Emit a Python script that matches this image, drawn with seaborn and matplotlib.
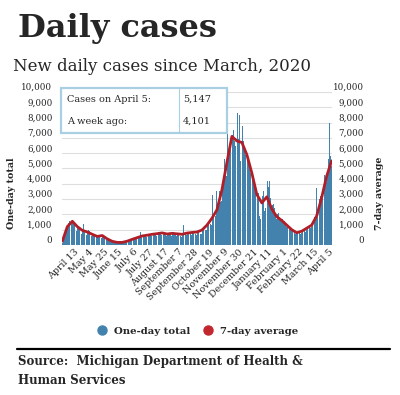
import matplotlib
matplotlib.use("Agg")
import matplotlib.pyplot as plt
from matplotlib.lines import Line2D
from matplotlib.patches import Rectangle
import seaborn as sns
import pandas as pd
import numpy as np

# Daily new cases, Michigan, 2020-03-23 .. 2021-04-05
mar_2020 = [150, 250, 400, 550, 700, 850, 900, 1100, 1300]
apr_2020 = [1450, 1600, 1950, 1500, 1400, 1450, 1600, 1400, 1300, 1350,
            1000, 900, 1150, 1200, 1050, 1100, 950, 850, 700, 900,
            1000, 1350, 950, 900, 800, 650, 850, 900, 950, 900]
may_2020 = [850, 700, 600, 750, 800, 750, 700, 650, 550, 500,
            550, 1200, 600, 600, 650, 550, 450, 550, 600, 650,
            550, 500, 400, 350, 350, 400, 450, 400, 350, 300, 250]
jun_2020 = [250, 250, 220, 230, 200, 180, 150, 160, 170, 180,
            190, 170, 150, 140, 160, 170, 180, 210, 230, 240,
            200, 250, 280, 300, 320, 330, 350, 300, 380, 400]
jul_2020 = [420, 450, 500, 400, 380, 500, 550, 560, 580, 650,
            850, 500, 550, 600, 620, 650, 680, 600, 550, 650,
            700, 680, 720, 750, 650, 580, 700, 750, 780, 800, 850]
aug_2020 = [650, 600, 750, 800, 850, 820, 900, 700, 650, 800,
            1100, 850, 780, 800, 700, 600, 700, 750, 800, 760,
            780, 650, 600, 750, 800, 850, 800, 900, 650, 600, 700]
sep_2020 = [750, 800, 750, 850, 600, 550, 500, 700, 1300, 850,
            900, 700, 650, 700, 800, 850, 900, 950, 700, 650,
            750, 850, 900, 950, 1000, 750, 650, 800, 850, 900]
oct_2020 = [900, 1000, 750, 700, 950, 1100, 1000, 1150, 1200, 1000,
            950, 2000, 1350, 1400, 1600, 1500, 1400, 1300, 1700, 3300,
            1900, 2000, 2100, 1900, 3500, 2200, 2500, 2600, 3400, 3500, 2800]
nov_2020 = [2900, 3200, 3800, 4200, 4500, 5600, 4800, 4500, 4900, 7600,
            6000, 6500, 6500, 6200, 6000, 9500, 7200, 7500, 6900, 6800,
            6500, 5700, 6000, 8600, 6900, 5800, 8500, 5500, 5600, 6200]
dec_2020 = [7800, 6800, 6500, 6200, 5900, 5200, 5500, 5900, 5600, 5300,
            5100, 4700, 4400, 4200, 4800, 4500, 4100, 3800, 3600, 3000,
            2800, 3100, 3400, 2900, 1900, 1700, 2000, 2700, 3200, 3500, 3000]
jan_2021 = [2200, 2400, 3800, 3500, 4200, 3800, 4000, 4200, 3100, 2400,
            2300, 2600, 2700, 2500, 2400, 1900, 1600, 1700, 2000, 2100,
            1900, 1800, 1700, 1400, 1500, 1700, 1600, 1500, 1600, 1300, 1100]
feb_2021 = [1200, 1300, 1200, 1100, 1200, 1000, 800, 900, 1000, 1100,
            900, 1000, 750, 650, 700, 800, 900, 850, 900, 700,
            650, 800, 900, 1000, 1100, 1000, 850, 750]
mar_2021 = [1000, 1200, 1100, 1300, 1200, 1100, 2400, 1200, 1400, 1600,
            1700, 1800, 1900, 1700, 3700, 1800, 2500, 2800, 3000, 3200,
            5100, 2900, 3500, 4000, 4300, 4600, 4000, 4300, 4101, 4800, 5000]
apr_2021 = [5600, 8000, 5800, 4600, 5147]

# 7-day average, read weekly (every 7th day from the first date)
avg_7day = [250, 1200, 1550, 1200, 960, 850, 700, 560, 620, 400,
            240, 170, 170, 250, 370, 480, 590, 640, 700, 740,
            790, 720, 760, 730, 700, 780, 820, 850, 980, 1300,
            1750, 2300, 3600, 5400, 7100, 6800, 6700, 5900, 4700, 3300,
            2750, 3150, 2350, 1850, 1600, 1300, 1000, 800, 900, 1100,
            1300, 1900, 3100, 4500, 5500]

tick_dates = ["2020-04-13", "2020-05-04", "2020-05-25", "2020-06-15", "2020-07-06",
              "2020-07-27", "2020-08-17", "2020-09-07", "2020-09-28", "2020-10-19",
              "2020-11-09", "2020-11-30", "2020-12-21", "2021-01-11", "2021-02-01",
              "2021-02-22", "2021-03-15", "2021-04-05"]
tick_labels = ["April 13", "May 4", "May 25", "June 15", "July 6", "July 27",
               "August 17", "September 7", "September 28", "October 19",
               "November 9", "November 30", "December 21", "January 11",
               "February 1", "February 22", "March 15", "April 5"]

start = pd.Timestamp("2020-03-23")
daily = (mar_2020 + apr_2020 + may_2020 + jun_2020 + jul_2020 + aug_2020 + sep_2020
         + oct_2020 + nov_2020 + dec_2020 + jan_2021 + feb_2021 + mar_2021 + apr_2021)
df = pd.DataFrame({"day": np.arange(len(daily)), "cases": daily})
avg_df = pd.DataFrame({"day": np.arange(len(avg_7day)) * 7, "avg": avg_7day})
tick_pos = [(pd.Timestamp(d) - start).days for d in tick_dates]

BLUE = "#4282ad"
RED = "#b01e28"
BOX = "#a9cfe3"

sns.set_style("white")
plt.rcParams["font.family"] = ["DejaVu Serif"]

fig = plt.figure(figsize=(4.0, 3.95), dpi=100)
ax = fig.add_axes([62 / 400, 150 / 395, 270 / 400, 153 / 395])

sns.barplot(data=df, x="day", y="cases", native_scale=True, color=BLUE,
            saturation=1, width=0.85, linewidth=0, ax=ax)
sns.lineplot(data=avg_df, x="day", y="avg", color=RED, lw=2.0, ax=ax)

ax.set_xlim(-0.5, len(daily) - 0.5)
ax.set_ylim(0, 10000)
yt = list(range(0, 10001, 1000))
ax.set_yticks(yt)
ax.set_yticklabels([f"{v:,}" for v in yt], fontsize=6.3, va="bottom")
ax.set_xticks(tick_pos)
ax.set_xticklabels(tick_labels, fontsize=6.8, rotation=45, ha="right",
                   va="center", rotation_mode="anchor")
ax.tick_params(axis="x", length=0, pad=4)
ax.tick_params(axis="y", length=0, pad=7)
ax.yaxis.grid(True, color="#dedede", lw=0.8)
ax.set_axisbelow(True)
ax.set_xlabel("")
ax.set_ylabel("")
for s in ax.spines.values():
    s.set_visible(False)

# right-hand axis labels
ax2 = ax.twinx()
ax2.set_ylim(0, 10000)
ax2.set_yticks(yt)
ax2.set_yticklabels([f"{v:,}" for v in yt], fontsize=6.3, va="bottom", ha="right")
ax2.tick_params(axis="y", length=0, pad=23)
for s in ax2.spines.values():
    s.set_visible(False)

fig.text(12 / 400, 0.511, "One-day total", rotation=90, ha="center", va="center",
         fontsize=6.8, weight="bold")
fig.text(380 / 400, 0.511, "7-day average", rotation=90, ha="center", va="center",
         fontsize=6.8, weight="bold")

fig.text(18 / 400, (395 - 37) / 395, "Daily cases", fontsize=23, weight="bold",
         va="baseline", ha="left")
fig.text(13 / 400, (395 - 71) / 395, "New daily cases since March, 2020",
         fontsize=12, va="baseline", ha="left")

# summary box
fig.add_artist(Rectangle((61 / 400, 0.663), 166 / 400, 0.114, transform=fig.transFigure,
                         facecolor="white", edgecolor=BOX, lw=1.6))
fig.add_artist(Line2D([179 / 400, 179 / 400], [0.663, 0.777], color=BOX, lw=0.8,
                      transform=fig.transFigure))
fig.text(67 / 400, (395 - 99) / 395, "Cases on April 5:", fontsize=7, va="center")
fig.text(67 / 400, (395 - 121) / 395, "A week ago:", fontsize=7, va="center")
fig.text(183 / 400, (395 - 99) / 395, "5,147", fontsize=7, va="center")
fig.text(183 / 400, (395 - 121) / 395, "4,101", fontsize=7, va="center")

handles = [Line2D([], [], marker="o", ls="none", color=BLUE, markersize=6.5),
           Line2D([], [], marker="o", ls="none", color="#c1272d", markersize=6.5)]
fig.legend(handles, ["One-day total", "7-day average"], loc="center",
           bbox_to_anchor=(0.4875, (395 - 331) / 395), ncol=2, frameon=False,
           prop=dict(weight="bold", size=7.3), handletextpad=0.2, columnspacing=0.8)

fig.add_artist(Line2D([17 / 400, 390 / 400], [(395 - 349) / 395] * 2, color="black",
                      lw=1.6, transform=fig.transFigure))
fig.text(18 / 400, (395 - 362) / 395, "Source:  Michigan Department of Health &",
         fontsize=8.5, weight="bold", va="center")
fig.text(18 / 400, (395 - 380) / 395, "Human Services", fontsize=8.5, weight="bold",
         va="center")

fig.savefig("out.png", dpi=100)
